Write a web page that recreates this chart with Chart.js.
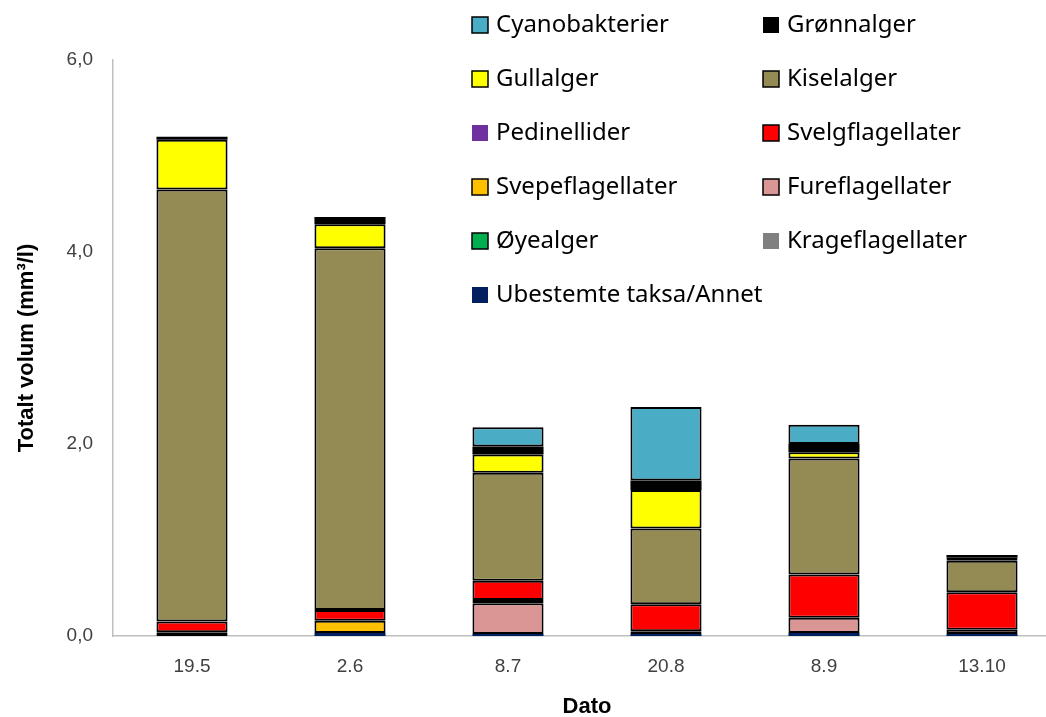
<!DOCTYPE html>
<html>
<head>
<meta charset="utf-8">
<script src="https://cdn.jsdelivr.net/npm/chart.js@4/dist/chart.umd.min.js"></script>
<style>
  html, body { margin: 0; padding: 0; background: #fff; overflow: hidden; }
  #wrap { position: relative; width: 1062px; height: 717px; }
</style>
</head>
<body>
<div id="wrap"><canvas id="chart"></canvas></div>
<script>
// kategorier (dato)
const datoer = ["19.5", "2.6", "8.7", "20.8", "8.9", "13.10"];

// serier, nederst i stabelen først
const ubestemte       = [0, 0.03, 0.02, 0.02, 0.03, 0.02];
const krageflagellater = [0, 0, 0, 0, 0, 0];
const oyealger        = [0, 0, 0, 0, 0, 0];
const fureflagellater = [0, 0, 0.32, 0.03, 0.16, 0.045];
const svepeflagellater = [0.04, 0.13, 0.035, 0, 0, 0];
const svelgflagellater = [0.11, 0.11, 0.2, 0.28, 0.45, 0.39];
const pedinellider    = [0, 0, 0, 0, 0, 0];
const kiselalger      = [4.50, 3.77, 1.125, 0.79, 1.21, 0.33];
const gullalger       = [0.52, 0.25, 0.19, 0.40, 0.065, 0.03];
const gronnalger      = [0.03, 0.075, 0.085, 0.10, 0.086, 0.03];
const cyanobakterier  = [0, 0, 0.2, 0.765, 0.2, 0];

const yTicks = [0, 2, 4, 6];

// rekkefølge i forklaringen (rad for rad)
const legendOrder = ["Cyanobakterier", "Grønnalger", "Gullalger", "Kiselalger", "Pedinellider",
  "Svelgflagellater", "Svepeflagellater", "Fureflagellater", "Øyealger", "Krageflagellater",
  "Ubestemte taksa/Annet"];

function serie(label, data, color, border) {
  return {
    label: label,
    data: data.map(v => v === 0 ? null : v),
    backgroundColor: color,
    borderColor: "#000",
    borderWidth: border ? 2 : 0,
    borderSkipped: false,
    barPercentage: 0.45,
    categoryPercentage: 1
  };
}

const datasets = [
  serie("Ubestemte taksa/Annet", ubestemte, "#002060", false),
  serie("Krageflagellater", krageflagellater, "#808080", false),
  serie("Øyealger", oyealger, "#00b050", true),
  serie("Fureflagellater", fureflagellater, "#da9694", true),
  serie("Svepeflagellater", svepeflagellater, "#ffc000", true),
  serie("Svelgflagellater", svelgflagellater, "#ff0000", true),
  serie("Pedinellider", pedinellider, "#7030a0", false),
  serie("Kiselalger", kiselalger, "#948a54", true),
  serie("Gullalger", gullalger, "#ffff00", true),
  serie("Grønnalger", gronnalger, "#000000", false),
  serie("Cyanobakterier", cyanobakterier, "#4bacc6", true)
];

// egen forklaring i to kolonner
const gridLegend = {
  id: "gridLegend",
  afterDraw(chart) {
    const ctx = chart.ctx;
    const cols = [472, 763];
    ctx.save();
    ctx.font = "24px 'Noto Sans', 'Open Sans', sans-serif";
    ctx.textBaseline = "middle";
    legendOrder.forEach((name, i) => {
      const ds = chart.data.datasets.find(d => d.label === name);
      const x = cols[i % 2];
      const y = 25 + Math.floor(i / 2) * 54;
      ctx.fillStyle = ds.backgroundColor;
      ctx.fillRect(x, y - 8, 16, 16);
      if (ds.borderWidth > 0) {
        ctx.lineWidth = 1.5;
        ctx.strokeStyle = "#000";
        ctx.strokeRect(x, y - 8, 16, 16);
      }
      ctx.fillStyle = "#000";
      ctx.fillText(name, x + 24, y);
    });
    ctx.restore();
  }
};

new Chart(document.getElementById("chart"), {
  type: "bar",
  data: { labels: datoer, datasets: datasets },
  plugins: [gridLegend],
  options: {
    responsive: true,
    maintainAspectRatio: false,
    animation: false,
    layout: { padding: { top: 60, right: 1, left: 0, bottom: 0 } },
    plugins: {
      legend: { display: false },
      tooltip: { enabled: false }
    },
    scales: {
      x: {
        stacked: true,
        grid: { display: false, drawTicks: false },
        border: { color: "#bfbfbf", width: 1.5 },
        ticks: { color: "#404040", font: { size: 19, family: "'Liberation Sans', Arial" }, padding: 19 },
        title: { display: true, text: "Dato", color: "#000",
                 font: { size: 22, weight: "bold", family: "'Liberation Sans', Arial" }, padding: { top: 4, bottom: -3 } },
        afterFit: s => { s.height = 81; }
      },
      y: {
        stacked: true,
        min: 0, max: 6,
        afterBuildTicks: s => { s.ticks = yTicks.map(v => ({ value: v })); },
        grid: { display: false, drawTicks: false },
        border: { color: "#bfbfbf", width: 1.5 },
        ticks: {
          color: "#404040", font: { size: 19, family: "'Liberation Sans', Arial" }, padding: 20,
          callback: v => v.toFixed(1).replace(".", ",")
        },
        title: { display: true, text: "Totalt volum (mm³/l)", color: "#000",
                 font: { size: 22, weight: "bold", family: "'Liberation Sans', Arial" }, padding: { top: 14 } },
        afterFit: s => { s.width = 113; }
      }
    }
  }
});
</script>
</body>
</html>
